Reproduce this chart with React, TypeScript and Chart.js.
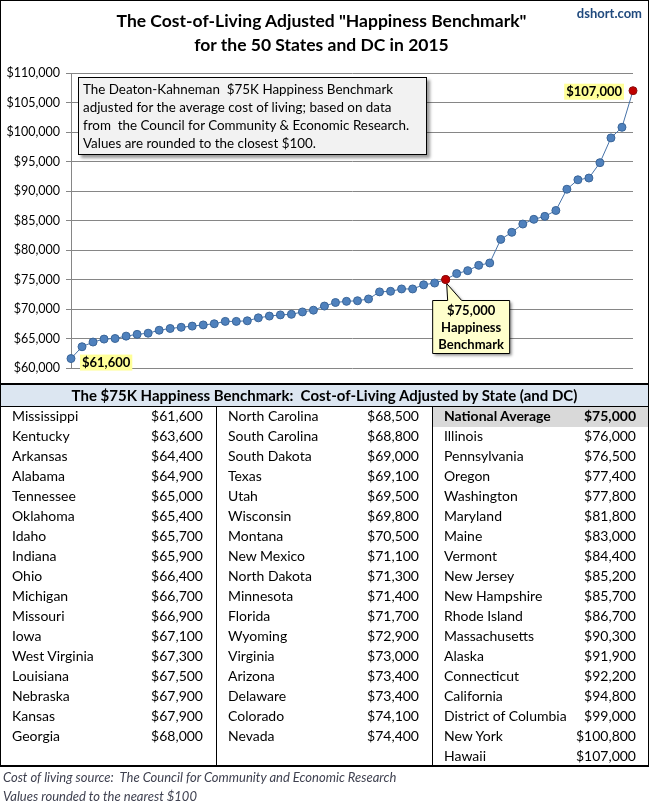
import React, { useEffect, useRef } from 'react';
import { Chart, registerables } from 'chart.js';

Chart.register(...registerables);

// ---------- DATA ----------
const NAMES: string[] = [
  'Mississippi', 'Kentucky', 'Arkansas', 'Alabama', 'Tennessee', 'Oklahoma', 'Idaho', 'Indiana', 'Ohio',
  'Michigan', 'Missouri', 'Iowa', 'West Virginia', 'Louisiana', 'Nebraska', 'Kansas', 'Georgia',
  'North Carolina', 'South Carolina', 'South Dakota', 'Texas', 'Utah', 'Wisconsin', 'Montana', 'New Mexico',
  'North Dakota', 'Minnesota', 'Florida', 'Wyoming', 'Virginia', 'Arizona', 'Delaware', 'Colorado', 'Nevada',
  'National Average', 'Illinois', 'Pennsylvania', 'Oregon', 'Washington', 'Maryland', 'Maine', 'Vermont',
  'New Jersey', 'New Hampshire', 'Rhode Island', 'Massachusetts', 'Alaska', 'Connecticut', 'California',
  'District of Columbia', 'New York', 'Hawaii',
];

const VALUES: number[] = [
  61600, 63600, 64400, 64900, 65000, 65400, 65700, 65900, 66400,
  66700, 66900, 67100, 67300, 67500, 67900, 67900, 68000,
  68500, 68800, 69000, 69100, 69500, 69800, 70500, 71100,
  71300, 71400, 71700, 72900, 73000, 73400, 73400, 74100, 74400,
  75000, 76000, 76500, 77400, 77800, 81800, 83000, 84400,
  85200, 85700, 86700, 90300, 91900, 92200, 94800,
  99000, 100800, 107000,
];

const COLUMN_SIZES: number[] = [17, 17, 18];
const BENCH_INDEX = 34; // National Average
const Y_MIN = 60000;
const Y_MAX = 110000;
const Y_STEP = 5000;

const TITLE_LINES: string[] = ['The Cost-of-Living Adjusted "Happiness Benchmark"', 'for the 50 States and DC in 2015'];
const SOURCE_TAG = 'dshort.com';
const INFO_LINES: string[] = [
  'The Deaton-Kahneman  $75K Happiness Benchmark',
  'adjusted for the average cost of living; based on data',
  'from  the Council for Community & Economic Research.',
  'Values are rounded to the closest $100.',
];
const CALLOUT_LINES: string[] = ['$75,000', 'Happiness', 'Benchmark'];
const TABLE_TITLE = 'The $75K Happiness Benchmark:  Cost-of-Living Adjusted by State (and DC)';
const FOOTNOTES: string[] = [
  'Cost of living source:  The Council for Community and Economic Research',
  'Values rounded to the nearest $100',
];

const FONT = 'Lato';
const fmt = (v: number) => '$' + v.toLocaleString('en-US');

const annotPlugin = {
  id: 'annot',
  afterDatasetsDraw(chart: any) {
    const ctx = chart.ctx as CanvasRenderingContext2D;
    const xs = chart.scales.x;
    const ys = chart.scales.y;
    const last = VALUES.length - 1;

    const highlight = (text: string, x: number, y: number, align: 'left' | 'right') => {
      ctx.save();
      ctx.font = `bold 13px ${FONT}`;
      const w = ctx.measureText(text).width;
      const left = align === 'left' ? x : x - w;
      ctx.fillStyle = '#FFFF99';
      ctx.fillRect(left - 2, y - 8, w + 4, 16);
      ctx.fillStyle = '#000';
      ctx.textBaseline = 'middle';
      ctx.textAlign = 'left';
      ctx.fillText(text, left, y + 0.5);
      ctx.restore();
    };

    const p0x = xs.getPixelForValue(0);
    const p0y = ys.getPixelForValue(VALUES[0]);
    highlight(fmt(VALUES[0]), p0x + 11, p0y + 4, 'left');

    const plx = xs.getPixelForValue(last);
    const ply = ys.getPixelForValue(VALUES[last]);
    highlight(fmt(VALUES[last]), plx - 11, ply + 1, 'right');

    // callout
    const bx = xs.getPixelForValue(BENCH_INDEX);
    const by = ys.getPixelForValue(VALUES[BENCH_INDEX]);
    const left = bx - 13;
    const top = by + 21;
    const w = 77;
    const h = 53;
    ctx.save();
    ctx.beginPath();
    ctx.moveTo(left, top);
    ctx.lineTo(bx + 2, top);
    ctx.lineTo(bx + 1, by + 4);
    ctx.lineTo(bx + 16, top);
    ctx.lineTo(left + w, top);
    ctx.lineTo(left + w, top + h);
    ctx.lineTo(left, top + h);
    ctx.closePath();
    ctx.shadowColor = 'rgba(0,0,0,0.45)';
    ctx.shadowOffsetX = 2;
    ctx.shadowOffsetY = 2;
    ctx.shadowBlur = 3;
    ctx.fillStyle = '#FFFFCC';
    ctx.fill();
    ctx.shadowColor = 'transparent';
    ctx.strokeStyle = '#000';
    ctx.lineWidth = 1;
    ctx.stroke();
    ctx.fillStyle = '#000';
    ctx.font = `bold 13px ${FONT}`;
    ctx.textAlign = 'center';
    ctx.textBaseline = 'middle';
    CALLOUT_LINES.forEach((t, i) => ctx.fillText(t, left + w / 2, top + 10 + i * 17));
    ctx.restore();

    // redraw benchmark point on top
    const meta = chart.getDatasetMeta(0);
    meta.data[BENCH_INDEX].draw(ctx);
  },
};

function ChartBlock() {
  const ref = useRef<HTMLCanvasElement | null>(null);
  useEffect(() => {
    if (!ref.current) return;
    Chart.defaults.font.family = FONT;
    const fill = VALUES.map((_, i) => (i === BENCH_INDEX || i === VALUES.length - 1 ? '#C00000' : '#4F81BD'));
    const stroke = VALUES.map((_, i) => (i === BENCH_INDEX || i === VALUES.length - 1 ? '#8B1010' : '#3A6598'));
    const chart = new Chart(ref.current, {
      type: 'line',
      data: {
        labels: NAMES,
        datasets: [
          {
            data: VALUES,
            borderColor: '#4672A8',
            borderWidth: 1,
            pointRadius: 4,
            pointBorderWidth: 1,
            pointBackgroundColor: fill,
            pointBorderColor: stroke,
            tension: 0,
            clip: false as any,
          },
        ],
      },
      options: {
        responsive: false,
        animation: false,
        layout: { padding: { top: 73, right: 16, bottom: 16, left: 0 } },
        plugins: { legend: { display: false }, tooltip: { enabled: false }, title: { display: false } },
        scales: {
          x: { type: 'category', display: false, offset: false },
          y: {
            min: Y_MIN,
            max: Y_MAX,
            ticks: { stepSize: Y_STEP, callback: (v: any) => fmt(Number(v)), color: '#000', font: { size: 12.5 }, padding: 6 },
            grid: { color: '#868686', tickLength: 5, lineWidth: 1 },
            border: { color: '#868686' },
            afterFit: (s: any) => {
              s.width = 71;
            },
          } as any,
        },
      },
      plugins: [annotPlugin],
    });
    return () => chart.destroy();
  }, []);
  return <canvas ref={ref} width={649} height={384} style={{ position: 'absolute', left: 0, top: 0 }} />;
}

export default function App() {
  const cols: number[][] = [];
  let start = 0;
  COLUMN_SIZES.forEach((n) => {
    cols.push(Array.from({ length: n }, (_, k) => start + k));
    start += n;
  });
  const colX = [0, 216, 432];
  const colW = [216, 216, 217];
  const abs = (s: React.CSSProperties): React.CSSProperties => ({ position: 'absolute', ...s });

  return (
    <div style={{ position: 'relative', width: 649, height: 801, background: '#fff', fontFamily: FONT, overflow: 'hidden' }}>
      <style>{'body{margin:0}'}</style>
      <ChartBlock />
      {/* title */}
      {TITLE_LINES.map((t, i) => (
        <div key={t} style={abs({ left: 0, width: 643, top: 9 + i * 24, height: 24, lineHeight: '24px', textAlign: 'center', fontWeight: 700, fontSize: 17.5, color: '#000' })}>
          {t}
        </div>
      ))}
      <div style={abs({ left: 570, top: 5, width: 72, textAlign: 'right', fontSize: 13, fontWeight: 700, color: '#1F497D' })}>{SOURCE_TAG}</div>
      {/* info box */}
      <div
        style={abs({
          left: 78,
          top: 77,
          width: 349,
          height: 78,
          boxSizing: 'border-box',
          background: '#F2F2F2',
          border: '1px solid #000',
          boxShadow: '3px 3px 3px rgba(0,0,0,0.4)',
          padding: '2px 0 0 4px',
          fontSize: 13.4,
          lineHeight: '18px',
          color: '#000',
          whiteSpace: 'pre',
        })}
      >
        {INFO_LINES.map((t) => (
          <div key={t}>{t}</div>
        ))}
      </div>
      {/* chart border */}
      <div style={abs({ left: 0, top: 0, width: 649, height: 385, boxSizing: 'border-box', border: '1px solid #000', borderBottom: '2px solid #000', pointerEvents: 'none' })} />
      {/* table header */}
      <div style={abs({ left: 1, top: 385, width: 647, height: 21, background: '#DCE6F1', textAlign: 'center', fontWeight: 700, fontSize: 15, lineHeight: '21px', color: '#000', whiteSpace: 'pre' })}>
        {TABLE_TITLE}
      </div>
      <div style={abs({ left: 0, top: 406, width: 649, height: 1, background: '#000' })} />
      {/* benchmark highlight */}
      <div style={abs({ left: 433, top: 407, width: 215, height: 20, background: '#D9D9D9' })} />
      {cols.map((idxs, c) =>
        idxs.map((idx, r) => {
          const bold = idx === BENCH_INDEX;
          return (
            <React.Fragment key={idx}>
              <div style={abs({ left: colX[c] + 12, top: 406 + r * 20, height: 20, lineHeight: '20px', fontSize: 14, fontWeight: bold ? 700 : 400, color: '#000', whiteSpace: 'pre' })}>
                {NAMES[idx]}
              </div>
              <div style={abs({ left: colX[c], width: colW[c] - 13, top: 406 + r * 20, height: 20, lineHeight: '20px', fontSize: 14, textAlign: 'right', fontWeight: bold ? 700 : 400, color: '#000' })}>
                {fmt(VALUES[idx])}
              </div>
            </React.Fragment>
          );
        })
      )}
      {/* table lines */}
      <div style={abs({ left: 216, top: 406, width: 1, height: 360, background: '#000' })} />
      <div style={abs({ left: 432, top: 406, width: 1, height: 360, background: '#000' })} />
      <div style={abs({ left: 0, top: 384, width: 1, height: 382, background: '#000' })} />
      <div style={abs({ left: 648, top: 384, width: 1, height: 382, background: '#000' })} />
      <div style={abs({ left: 0, top: 765, width: 649, height: 2, background: '#000' })} />
      {/* footnotes */}
      {FOOTNOTES.map((t, i) => (
        <div key={t} style={abs({ left: 3, top: 768 + i * 19, height: 19, lineHeight: '19px', fontSize: 13, fontStyle: 'italic', color: '#3F4150', whiteSpace: 'pre' })}>
          {t}
        </div>
      ))}
    </div>
  );
}
